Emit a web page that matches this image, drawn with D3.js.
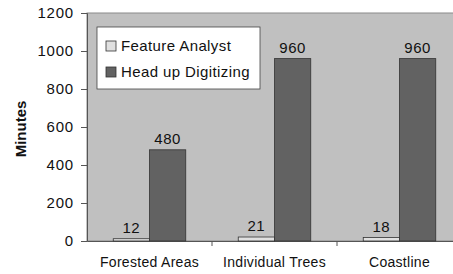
<!DOCTYPE html>
<html>
<head>
<meta charset="utf-8">
<script src="https://cdn.jsdelivr.net/npm/d3@7"></script>
<style>
  body { margin: 0; background: #fff; }
  svg { display: block; font-family: "Liberation Sans", Arial, sans-serif; }
</style>
</head>
<body>
<svg id="chart" width="453" height="274"></svg>
<script>
// chart data
var categories = ["Forested Areas", "Individual Trees", "Coastline"];
var seriesNames = ["Feature Analyst", "Head up Digitizing"];
var featureAnalyst = [12, 21, 18];
var headUpDigitizing = [480, 960, 960];
var yTicks = [0, 200, 400, 600, 800, 1000, 1200];

var colors = ["#e0e0e0", "#626262"];
var series = [featureAnalyst, headUpDigitizing];

var svg = d3.select("#chart");
var margin = {left: 87, top: 13, right: -9, bottom: 33};
var width = 453 - margin.left - margin.right,
    height = 274 - margin.top - margin.bottom;

var g = svg.append("g").attr("transform", "translate(" + margin.left + "," + margin.top + ")");

var x = d3.scaleBand().domain(categories).range([0, width]).paddingInner(0.42).paddingOuter(0.21);
var xs = d3.scaleBand().domain(seriesNames).range([0, x.bandwidth()]);
var y = d3.scaleLinear().domain([0, 1200]).range([height, 0]);

// plot background
g.append("rect")
  .attr("width", width).attr("height", height)
  .attr("fill", "#c0c0c0")
  .attr("stroke", "#8a8a8a").attr("stroke-width", 1);

// y axis
var yAxis = g.append("g")
  .call(d3.axisLeft(y).tickValues(yTicks).tickFormat(d3.format("d")).tickSize(6).tickPadding(7));
yAxis.select(".domain").attr("stroke", "#555");
yAxis.selectAll(".tick line").attr("stroke", "#555");
yAxis.selectAll("text").attr("font-size", 15).attr("letter-spacing", 0.8)
  .attr("fill", "#111").attr("font-family", "Liberation Sans, Arial, sans-serif");

// x axis
var xAxis = g.append("g")
  .attr("transform", "translate(0," + height + ")")
  .call(d3.axisBottom(x).tickSize(0).tickPadding(16));
xAxis.select(".domain").attr("stroke", "#555");
xAxis.selectAll("text").attr("font-size", 14).attr("letter-spacing", 0.3)
  .attr("fill", "#111").attr("font-family", "Liberation Sans, Arial, sans-serif");
// category separators
g.selectAll(".sep")
  .data(categories.slice(1))
  .enter().append("line")
  .attr("x1", function(d) { return x(d) - x.step() * x.paddingInner() / 2; })
  .attr("x2", function(d) { return x(d) - x.step() * x.paddingInner() / 2; })
  .attr("y1", height).attr("y2", height + 5)
  .attr("stroke", "#555");

// bars
var groups = g.selectAll(".cat")
  .data(categories)
  .enter().append("g")
  .attr("transform", function(d) { return "translate(" + x(d) + ",0)"; });

groups.selectAll("rect")
  .data(function(d, i) { return seriesNames.map(function(s, j) { return {s: s, v: series[j][i], c: j}; }); })
  .enter().append("rect")
  .attr("x", function(d) { return xs(d.s); })
  .attr("y", function(d) { return y(d.v); })
  .attr("width", xs.bandwidth())
  .attr("height", function(d) { return height - y(d.v); })
  .attr("fill", function(d) { return colors[d.c]; })
  .attr("stroke", "#333").attr("stroke-width", 0.8);

groups.selectAll(".val")
  .data(function(d, i) { return seriesNames.map(function(s, j) { return {s: s, v: series[j][i]}; }); })
  .enter().append("text")
  .attr("x", function(d) { return xs(d.s) + xs.bandwidth() / 2; })
  .attr("y", function(d) { return y(d.v) - 6; })
  .attr("text-anchor", "middle")
  .attr("font-size", 15).attr("letter-spacing", 0.6).attr("fill", "#111")
  .text(function(d) { return d.v; });

// y title
svg.append("text")
  .attr("transform", "translate(26,129) rotate(-90)")
  .attr("text-anchor", "middle")
  .attr("font-size", 15).attr("font-weight", "bold").attr("fill", "#111")
  .text("Minutes");

// legend
var legend = svg.append("g").attr("transform", "translate(97,27)");
legend.append("rect").attr("width", 163).attr("height", 62)
  .attr("fill", "#fff").attr("stroke", "#444").attr("stroke-width", 0.8);
var items = legend.selectAll(".item").data(seriesNames).enter().append("g")
  .attr("transform", function(d, i) { return "translate(9," + (19 + i * 26) + ")"; });
items.append("rect").attr("x", 0).attr("y", -5).attr("width", 10).attr("height", 10)
  .attr("fill", function(d, i) { return colors[i]; })
  .attr("stroke", "#333").attr("stroke-width", 0.8);
items.append("text").attr("x", 15).attr("dy", "0.35em")
  .attr("font-size", 15).attr("letter-spacing", 0.4).attr("fill", "#111")
  .text(function(d) { return d; });
</script>
</body>
</html>
